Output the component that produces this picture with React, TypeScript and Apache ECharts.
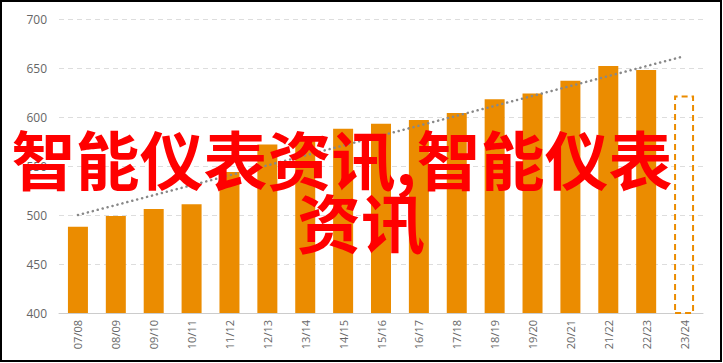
import React, { useEffect, useRef } from "react";
import * as echarts from "echarts";

const categories = [
  "07/08", "08/09", "09/10", "10/11", "11/12", "12/13", "13/14", "14/15", "15/16",
  "16/17", "17/18", "18/19", "19/20", "20/21", "21/22", "22/23", "23/24",
];
const barValues = [488, 499, 506, 511, 544, 572, 580, 588, 593, 597, 604, 618, 624, 637, 652, 648, 622];
const projectedIndex = 16;
const trendValues: (number | null)[] = [500, null, null, null, null, null, null, null, null, null, null, null, null, null, null, null, 662];
const yTicks = { min: 400, max: 700, interval: 50 };
const overlayLine1 = "智能仪表资讯,智能仪表";
const overlayLine2 = "资讯";

const ORANGE = "#EB8C00";

export default function App() {
  const ref = useRef<HTMLDivElement>(null);
  useEffect(() => {
    document.body.style.margin = "0";
    const chart = echarts.init(ref.current!, undefined, { renderer: "svg" });
    chart.setOption({
      animation: false,
      backgroundColor: "#ffffff",
      grid: { left: 59, right: 20, top: 19, bottom: 50 },
      xAxis: {
        type: "category",
        data: categories,
        axisLine: { lineStyle: { color: "#cccccc", width: 1 } },
        axisTick: { show: false },
        axisLabel: {
          rotate: 90,
          color: "#666666",
          fontSize: 11,
          fontFamily: "Open Sans",
          margin: 7,
        },
      },
      yAxis: {
        type: "value",
        min: yTicks.min,
        max: yTicks.max,
        interval: yTicks.interval,
        axisLine: { show: false },
        axisTick: { show: false },
        axisLabel: { color: "#666666", fontSize: 12, fontFamily: "Open Sans", margin: 12 },
        splitLine: { lineStyle: { color: "#dddddd", type: [5, 4], width: 1 } },
      },
      series: [
        {
          type: "bar",
          barWidth: 20,
          data: barValues.map((v, i) =>
            i === projectedIndex
              ? {
                  value: v,
                  itemStyle: {
                    color: "rgba(0,0,0,0)",
                    borderColor: ORANGE,
                    borderWidth: 2,
                    borderType: [6, 4],
                  },
                }
              : { value: v, itemStyle: { color: ORANGE } }
          ),
        },
        {
          type: "line",
          data: trendValues,
          connectNulls: true,
          symbol: "none",
          z: 5,
          lineStyle: { color: "#888888", width: 2.5, type: [0.1, 5], cap: "round" },
        },
      ],
      graphic: [
        {
          type: "text",
          x: 342,
          y: 157,
          z: 100,
          style: {
            text: overlayLine1,
            fill: "#ff0000",
            fontSize: 64,
            fontWeight: "bold",
            fontFamily: "Noto Sans CJK SC",
            align: "center",
            verticalAlign: "middle",
          },
        },
        {
          type: "text",
          x: 361,
          y: 220,
          z: 100,
          style: {
            text: overlayLine2,
            fill: "#ff0000",
            fontSize: 64,
            fontWeight: "bold",
            fontFamily: "Noto Sans CJK SC",
            align: "center",
            verticalAlign: "middle",
          },
        },
        {
          type: "rect",
          z: 101,
          shape: { x: 1, y: 1, width: 720, height: 360 },
          style: { fill: "none", stroke: "#000000", lineWidth: 2 },
        },
      ],
    });
    return () => chart.dispose();
  }, []);
  return <div ref={ref} style={{ width: 723, height: 363 }} />;
}
